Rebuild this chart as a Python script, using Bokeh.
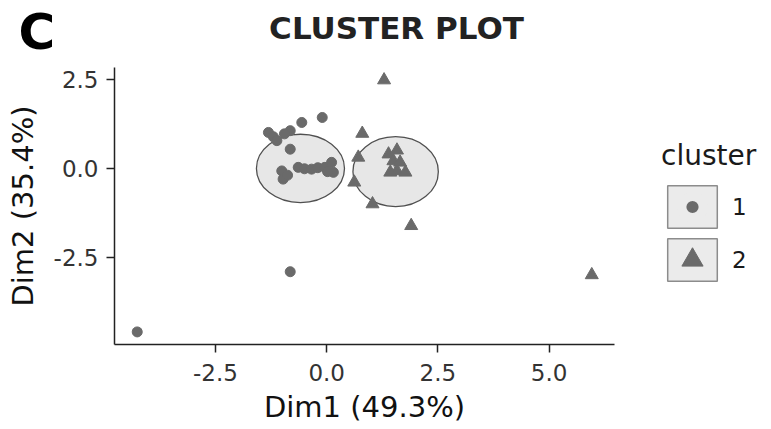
from bokeh.plotting import figure
from bokeh.models import (Range1d, FixedTicker, CustomJSTickFormatter, Legend, LegendItem,
                          ColumnDataSource, Label)
from bokeh.embed import file_html
from bokeh.resources import INLINE

# ---- data ----
c1_x = [-4.26, -0.82, -0.10, -0.56, -0.82, -0.95, -1.31, -1.20, -1.12, -0.82,
        -0.64, -0.50, -0.34, -0.20, -0.04, 0.11, 0.15, 0.02, -1.01, -0.98, -0.88]
c1_y = [-4.58, -2.89, 1.44, 1.30, 1.07, 0.98, 1.02, 0.90, 0.79, 0.55,
        0.04, 0.00, -0.01, 0.03, 0.04, 0.18, -0.10, -0.08, -0.06, -0.29, -0.18]
c2_x = [1.29, 0.80, 0.71, 0.62, 1.03, 1.90, 5.96, 1.39, 1.58, 1.50, 1.58, 1.77, 1.43, 1.65]
c2_y = [2.49, 0.99, 0.32, -0.38, -0.99, -1.60, -2.98, 0.41, 0.52, 0.22, -0.06, -0.10, -0.10, 0.18]

ell_x = [-0.59, 1.55]
ell_y = [0.01, -0.08]
ell_w = [1.98, 1.92]
ell_h = [1.92, 1.96]

clusters = ["1", "2"]
x_ticks = [-2.5, 0.0, 2.5, 5.0]
y_ticks = [-2.5, 0.0, 2.5]

FONT = "DejaVu Sans"
PT_COL = "#6a6a6a"
KEY_FILL = "#ebebeb"

all_x = c1_x + c2_x
all_y = c1_y + c2_y
xs = max(all_x) - min(all_x)
ys = max(all_y) - min(all_y)
x0, x1 = min(all_x) - 0.05 * xs, max(all_x) + 0.05 * xs
y0, y1 = min(all_y) - 0.05 * ys, max(all_y) + 0.05 * ys

FW, FH = 500, 277
p = figure(width=771, height=429, frame_width=FW, frame_height=FH,
           output_backend="svg", toolbar_location=None,
           x_range=Range1d(x0, x1), y_range=Range1d(y0, y1),
           min_border_left=114, min_border_top=67, min_border_right=157, min_border_bottom=85)

p.outline_line_color = None
p.xgrid.visible = False
p.ygrid.visible = False
p.background_fill_color = "white"
p.border_fill_color = "white"

# ellipses
p.ellipse(x=ell_x, y=ell_y, width=ell_w, height=ell_h,
          fill_color="#e7e7e7", line_color="#505050", line_width=1.3)

r1 = p.scatter(c1_x, c1_y, marker="circle", size=10, fill_color=PT_COL, line_color=PT_COL)
r2 = p.scatter(c2_x, c2_y, marker="triangle", size=13, fill_color=PT_COL, line_color=PT_COL)

# legend helpers: zero-size glyphs (invisible in the plot) that only style the legend keys
kb = p.rect(x="x", y="y", width=0, height=0,
            source=ColumnDataSource(dict(x=ell_x[:1], y=ell_y[:1])),
            fill_color=KEY_FILL, line_color="#8c8c8c", line_width=1.5)
kc = p.scatter(x="x", y="y", size=0, marker="circle",
               source=ColumnDataSource(dict(x=c1_x[:1], y=c1_y[:1])),
               fill_color=PT_COL, line_color=KEY_FILL, line_width=9)

legend = Legend(items=[LegendItem(label=clusters[0], renderers=[kb, kc]),
                       LegendItem(label=clusters[1], renderers=[kb, r2])],
                title="cluster", location=(47, 58),
                glyph_width=62, glyph_height=53, spacing=0, label_standoff=9,
                padding=0, margin=0, border_line_alpha=0, background_fill_alpha=0,
                title_standoff=8,
                title_text_font=FONT, title_text_font_size="28px", title_text_color="#1a1a1a",
                title_text_font_style="normal",
                label_text_font=FONT, label_text_font_size="23px", label_text_color="#1a1a1a")
p.add_layout(legend, "right")

# axes
fmt = CustomJSTickFormatter(code="return tick.toFixed(1);")
for ax, ticks, lab in ((p.xaxis, x_ticks, "Dim1 (49.3%)"), (p.yaxis, y_ticks, "Dim2 (35.4%)")):
    ax.ticker = FixedTicker(ticks=ticks)
    ax.formatter = fmt
    ax.axis_label = lab
    ax.axis_label_text_font = FONT
    ax.axis_label_text_font_size = "29px"
    ax.axis_label_text_font_style = "normal"
    ax.axis_label_text_color = "#111111"
    ax.major_label_text_font = FONT
    ax.major_label_text_font_size = "23px"
    ax.major_label_text_color = "#333333"
    ax.axis_line_color = "#222222"
    ax.axis_line_width = 1.5
    ax.major_tick_line_color = "#222222"
    ax.major_tick_line_width = 1.5
    ax.major_tick_in = 0
    ax.major_tick_out = 8
    ax.minor_tick_line_color = None
p.xaxis.major_label_standoff = 11
p.yaxis.major_label_standoff = 8
p.xaxis.axis_label_standoff = 6
p.yaxis.axis_label_standoff = 11

# texts above the frame: placed via the data scale, in side panels so that
# they are not clipped to the frame
px_x = (x1 - x0) / FW
px_y = (y1 - y0) / FH
p.add_layout(Label(x=x0 + (396 - 114) * px_x, y=y1 + 40 * px_y, text="CLUSTER PLOT",
                   text_font=FONT, text_font_size="31px", text_font_style="bold",
                   text_color="#222222", text_align="center",
                   text_baseline="alphabetic"), "above")
p.add_layout(Label(x=x0 - (114 - 18) * px_x, y=y1 + 36 * px_y, text="C",
                   text_font=FONT, text_font_size="50px", text_font_style="bold",
                   text_color="black", text_baseline="alphabetic"), "right")

open("out.html", "w").write(file_html(p, INLINE))
